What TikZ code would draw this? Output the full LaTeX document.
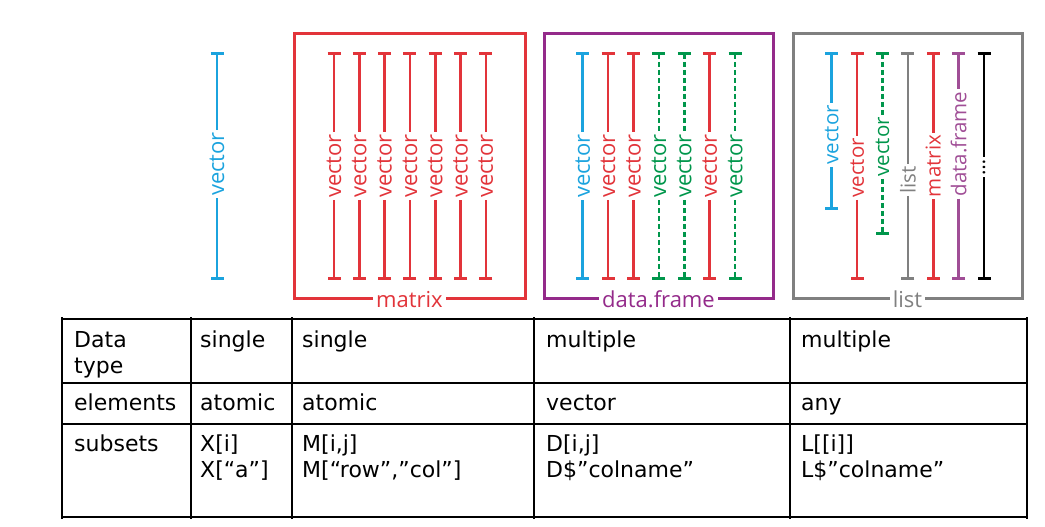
\documentclass[tikz,border=0pt]{standalone}
\usepackage{fontspec}
\setmainfont{DejaVu Sans}
\newfontfamily\lblfont{Open Sans}
\usetikzlibrary{arrows.meta}
\definecolor{vblue}{RGB}{27,163,222}
\definecolor{vred}{RGB}{226,52,58}
\definecolor{vgreen}{RGB}{0,150,75}
\definecolor{vpurple}{RGB}{148,42,138}
\definecolor{vpurplel}{RGB}{160,78,150}
\definecolor{vgray}{RGB}{128,128,128}
\tikzset{
  vstem/.style={line width=2.6pt},
  topstem/.style={vstem, {Bar[width=13pt]}-},
  botstem/.style={vstem, -{Bar[width=13pt]}},
  dashstem/.style={dash pattern=on 5pt off 3pt},
  vlabel/.style={rotate=90, inner sep=2pt, font=\lblfont\fontsize{22}{22}\selectfont},
  smalllabel/.style={vlabel, font=\lblfont\fontsize{20.5}{20.5}\selectfont},
  boxframe/.style={draw, line width=3pt, inner sep=0pt},
  boxlabel/.style={fill=white, inner sep=3pt, font=\lblfont\fontsize{22}{22}\selectfont},
  cell/.style={anchor=base west, inner sep=0pt, font=\fontsize{22}{26}\selectfont},
  tabline/.style={line width=1.2pt, black}
}
\begin{document}
\begin{tikzpicture}[x=1pt, y=-1pt]
  \useasboundingbox (0,0) rectangle (1045,527);

  % single vector
  \coordinate (st) at (217,52);
  \coordinate (sb) at (217,280);
  \node[vlabel, text=vblue] (sv) at (217,164) {vector};
  \draw[topstem, vblue] (st) -- (sv.east);
  \draw[botstem, vblue] (sv.west) -- (sb);

  % matrix
  \node[boxframe, draw=vred, minimum width=231, minimum height=264] (mbox) at (409.5,166) {};
  \node[boxlabel, text=vred] (mlbl) at (mbox.south) {matrix};
  \foreach \k in {0,...,6}{
    \pgfmathsetmacro{\xx}{334+25.3*\k}
    \coordinate (mt\k) at (\xx,52);
    \coordinate (mb\k) at (\xx,280);
    \node[vlabel, text=vred] (mv\k) at (\xx,166) {vector};
    \draw[topstem, vred] (mt\k) -- (mv\k.east);
    \draw[botstem, vred] (mv\k.west) -- (mb\k);
  }

  % data.frame
  \node[boxframe, draw=vpurple, minimum width=229, minimum height=264] (dbox) at (658.5,166) {};
  \node[boxlabel, text=vpurple] (dlbl) at (dbox.south) {data.frame};
  \foreach \k/\cc/\ds in {0/vblue/solid, 1/vred/solid, 2/vred/solid, 3/vgreen/dashstem,
                          4/vgreen/dashstem, 5/vred/solid, 6/vgreen/dashstem}{
    \pgfmathsetmacro{\xx}{582.7+25.4*\k}
    \coordinate (dt\k) at (\xx,52);
    \coordinate (db\k) at (\xx,280);
    \node[vlabel, text=\cc] (dv\k) at (\xx,166) {vector};
    \draw[topstem, draw=\cc, \ds] (dt\k) -- (dv\k.east);
    \draw[botstem, draw=\cc, \ds] (dv\k.west) -- (db\k);
  }

  % list
  \node[boxframe, draw=vgray, minimum width=229, minimum height=264] (lbox) at (907.5,166) {};
  \node[boxlabel, text=vgray] (llbl) at (lbox.south) {list};
  \foreach \k/\cc/\bb/\yy/\ds/\lb in {0/vblue/210/135/solid/vector, 1/vred/280/168/solid/vector,
                                      2/vgreen/235/147/dashstem/vector, 3/vgray/280/180/solid/list,
                                      4/vred/280/166/solid/matrix, 5/vpurplel/280/144/solid/data.frame,
                                      6/black/280/167/solid/{\dots}}{
    \pgfmathsetmacro{\xx}{831.7+25.4*\k}
    \coordinate (lt\k) at (\xx,52);
    \coordinate (lb\k) at (\xx,\bb);
    \node[smalllabel, text=\cc] (lv\k) at (\xx,\yy) {\lb};
    \draw[topstem, draw=\cc, \ds] (lt\k) -- (lv\k.east);
    \draw[botstem, draw=\cc, \ds] (lv\k.west) -- (lb\k);
  }

  % table
  \draw[tabline] (62,319) -- (1027,319);
  \draw[tabline] (62,383) -- (1027,383);
  \draw[tabline] (62,424) -- (1027,424);
  \draw[tabline] (62,517) -- (1027,517);
  \foreach \xx in {62,191,292,534,790,1027}
    \draw[tabline] (\xx,317) -- (\xx,519);

  \node[cell] (c11) at (74,347) {Data};
  \node[cell] (c11b) at (74,373) {type};
  \node[cell] (c12) at (200,347) {single};
  \node[cell] (c13) at (302,347) {single};
  \node[cell] (c14) at (546,347) {multiple};
  \node[cell] (c15) at (801,347) {multiple};

  \node[cell] (c21) at (74,410) {elements};
  \node[cell] (c22) at (200,410) {atomic};
  \node[cell] (c23) at (302,410) {atomic};
  \node[cell] (c24) at (546,410) {vector};
  \node[cell] (c25) at (801,410) {any};

  \node[cell] (c31) at (74,451) {subsets};
  \node[cell] (c32) at (200,451) {X[i]};
  \node[cell] (c32b) at (200,477) {X[“a”]};
  \node[cell] (c33) at (302,451) {M[i,j]};
  \node[cell] (c33b) at (302,477) {M[“row”,”col”]};
  \node[cell] (c34) at (546,451) {D[i,j]};
  \node[cell] (c34b) at (546,477) {D\$”colname”};
  \node[cell] (c35) at (801,451) {L[[i]]};
  \node[cell] (c35b) at (801,477) {L\$”colname”};
\end{tikzpicture}
\end{document}
